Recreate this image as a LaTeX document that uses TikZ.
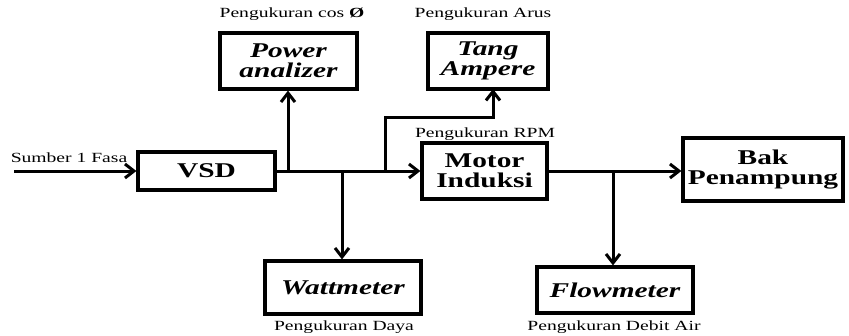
\documentclass[tikz,border=0pt]{standalone}
\usepackage{fontspec}
\setmainfont{Liberation Serif}[FakeStretch=1.4]
\usetikzlibrary{arrows.meta}

\begin{document}
\begin{tikzpicture}[x=1pt,y=-1pt,>={Straight Barb[length=9pt,width=14pt]},
	line width=3pt,
	box/.style = {draw,line width=3.2pt,align=center,inner sep=0pt,font=\fontsize{21}{20}\selectfont\bfseries},
	meter/.style = {box,font=\fontsize{21}{20}\selectfont\bfseries\itshape},
	lbl/.style = {inner sep=0pt,font=\fontsize{14}{15}\selectfont}
	]
	\useasboundingbox (0,0) rectangle (849,335);
	%BLOK UTAMA
	\node[box,minimum width=137pt,minimum height=38pt] (vsd) at (206.5,171) {VSD};
	\node[box,minimum width=125pt,minimum height=56pt] (motor) at (484.5,171) {Motor\\Induksi};
	\node[box,minimum width=160pt,minimum height=63pt] (bak) at (763,169.5) {Bak\\Penampung};
	%ALAT UKUR
	\node[meter,minimum width=137pt,minimum height=56pt] (power) at (288.5,61) {Power\\analizer};
	\node[meter,minimum width=120pt,minimum height=56pt] (tang) at (488,61) {Tang\\Ampere};
	\node[meter,minimum width=156pt,minimum height=53pt] (watt) at (343,287.5) {Wattmeter};
	\node[meter,minimum width=156pt,minimum height=46pt] (flow) at (615,290) {Flowmeter};
	%KETERANGAN
	\node[lbl] (lsumber) at (69,158) {Sumber 1 Fasa};
	\node[lbl] (lcos) at (292,14) {Pengukuran cos \textbf{Ø}};
	\node[lbl] (larus) at (483,14) {Pengukuran Arus};
	\node[lbl] (lrpm) at (485,134) {Pengukuran RPM};
	\node[lbl] (ldaya) at (344,327) {Pengukuran Daya};
	\node[lbl] (ldebit) at (614,327) {Pengukuran Debit Air};
	%TITIK CABANG
	\coordinate (src) at (14,171);
	\coordinate (j1) at (288,171);
	\coordinate (j2) at (342,171);
	\coordinate (j3) at (385,171);
	\coordinate (k3) at (385,117);
	\coordinate (j4) at (613,171);
	%Aliran
	\draw[->] (src) -- (vsd);
	\draw[->] (vsd) -- (motor);
	\draw[->] (motor.east) -- (motor.east -| bak.west);
	\draw[->] (j1) -- (j1 |- power.south);
	\draw[->] (j2) -- (j2 |- watt.north);
	\draw[->] (j3) -- (k3) -- (493,117) -- (493,89);
	\draw[->] (j4) -- (j4 |- flow.north);
\end{tikzpicture}
\end{document}
